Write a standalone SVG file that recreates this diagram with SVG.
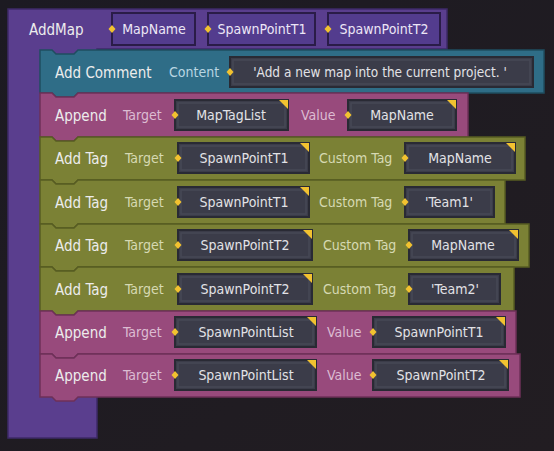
<svg xmlns="http://www.w3.org/2000/svg" width="554" height="451" viewBox="0 0 554 451">
<defs>
<linearGradient id="bg" x1="0" y1="0" x2="1" y2="1">
<stop offset="0" stop-color="#1c1a22"/><stop offset="1" stop-color="#221d22"/>
</linearGradient>
<symbol id="tri" overflow="visible"><path d="M-9,0 H0 V9 Z" fill="#f2c230"/></symbol>
<symbol id="dia" overflow="visible"><path d="M0,-4 L3.5,0 L0,4 L-3.5,0 Z" fill="#f2c230"/></symbol>
</defs>
<style>
text{font-family:"DejaVu Sans Condensed","DejaVu Sans","Roboto",sans-serif;font-stretch:condensed}
.t{font-size:15px;fill:#ececec}
.l{font-size:14px}
.lm{fill:#dcbcd2}.lo{fill:#d6d9b2}.lc{fill:#b9d6e2}
.v{font-size:14px;fill:#e2e2e6;text-anchor:middle}
.cv{font-size:13.5px}
.pv{font-size:14px;fill:#ece6f6;text-anchor:middle}
.box{fill:#3b3c49;stroke:#292a34;stroke-width:2}
.inner{fill:none;stroke:#474856;stroke-width:1.5}
.pbox{fill:#533c8e;stroke:#2a1c48;stroke-width:2}
.pinner{fill:none;stroke:#5f49a0;stroke-width:1.5}
.teal{fill:#2f6d87;stroke:#1f4d60;stroke-width:1.5}
.mag{fill:#984a7c;stroke:#6d3058;stroke-width:1.5}
.oli{fill:#7b8135;stroke:#575c22;stroke-width:1.5}
.pur{fill:#5a3e8e;stroke:#3e2a68;stroke-width:1.5}
</style>
<rect width="554" height="451" fill="url(#bg)"/>

<g id="addmap">
<path class="pur" d="M8,9 H447 V49 H97 V438 H8 Z"/>
<text class="t" x="29" y="35">AddMap</text>
<rect class="pbox" x="112" y="13" width="83" height="32"/>
<use href="#dia" x="112" y="29"/>
<text class="pv" x="154" y="34">MapName</text>
<rect class="pbox" x="208" y="13" width="107" height="32"/>
<use href="#dia" x="208" y="29"/>
<text class="pv" x="262" y="34">SpawnPointT1</text>
<rect class="pbox" x="328" y="13" width="112" height="32"/>
<use href="#dia" x="328" y="29"/>
<text class="pv" x="384" y="34">SpawnPointT2</text>
</g>

<g id="connectors"></g>

<g id="comment">
<path class="teal" d="M40,50 H52 L56,54 H74 L78,50 H544 V93 H78 L74,97 H56 L52,93 H40 Z"/>
<text class="t" x="55" y="78">Add Comment</text>
<text class="l lc" x="169" y="77">Content</text>
<rect class="box" x="230" y="57" width="303" height="30"/>
<rect class="inner" x="233" y="60" width="297" height="24"/>
<use href="#dia" x="230" y="72"/>
<text class="v cv" x="380" y="77">'Add a new map into the current project. '</text>
</g>

<g id="append1">
<path class="mag" d="M40,93 H52 L56,97 H74 L78,93 H468 V137 H78 L74,141 H56 L52,137 H40 Z"/>
<text class="t" x="55" y="121">Append</text>
<text class="l lm" x="123" y="120">Target</text>
<rect class="box" x="175" y="100" width="113" height="30"/>
<rect class="inner" x="178" y="103" width="107" height="24"/>
<use href="#tri" x="288" y="100"/><use href="#dia" x="175" y="115"/>
<text class="v" x="231" y="120">MapTagList</text>
<text class="l lm" x="301" y="120">Value</text>
<rect class="box" x="348" y="100" width="108" height="30"/>
<rect class="inner" x="351" y="103" width="102" height="24"/>
<use href="#tri" x="456" y="100"/><use href="#dia" x="348" y="115"/>
<text class="v" x="402" y="120">MapName</text>
</g>

<g id="addtag1">
<path class="oli" d="M40,137 H52 L56,141 H74 L78,137 H525 V180 H78 L74,184 H56 L52,180 H40 Z"/>
<text class="t" x="55" y="164">Add Tag</text>
<text class="l lo" x="125" y="163">Target</text>
<rect class="box" x="178" y="143" width="131" height="30"/>
<rect class="inner" x="181" y="146" width="125" height="24"/>
<use href="#tri" x="309" y="143"/><use href="#dia" x="178" y="158"/>
<text class="v" x="244" y="163">SpawnPointT1</text>
<text class="l lo" x="319" y="163">Custom Tag</text>
<rect class="box" x="405" y="143" width="110" height="30"/>
<rect class="inner" x="408" y="146" width="104" height="24"/>
<use href="#tri" x="515" y="143"/><use href="#dia" x="405" y="158"/>
<text class="v" x="460" y="163">MapName</text>
</g>

<g id="addtag2">
<path class="oli" d="M40,180 H52 L56,184 H74 L78,180 H505 V224 H78 L74,228 H56 L52,224 H40 Z"/>
<text class="t" x="55" y="208">Add Tag</text>
<text class="l lo" x="125" y="207">Target</text>
<rect class="box" x="178" y="187" width="131" height="30"/>
<rect class="inner" x="181" y="190" width="125" height="24"/>
<use href="#tri" x="309" y="187"/><use href="#dia" x="178" y="202"/>
<text class="v" x="244" y="207">SpawnPointT1</text>
<text class="l lo" x="319" y="207">Custom Tag</text>
<rect class="box" x="405" y="187" width="89" height="30"/>
<rect class="inner" x="408" y="190" width="83" height="24"/>
<use href="#dia" x="405" y="202"/>
<text class="v" x="449" y="207">'Team1'</text>
</g>

<g id="addtag3">
<path class="oli" d="M40,224 H52 L56,228 H74 L78,224 H529 V267 H78 L74,271 H56 L52,267 H40 Z"/>
<text class="t" x="55" y="251">Add Tag</text>
<text class="l lo" x="125" y="250">Target</text>
<rect class="box" x="178" y="230" width="134" height="30"/>
<rect class="inner" x="181" y="233" width="128" height="24"/>
<use href="#tri" x="312" y="230"/><use href="#dia" x="178" y="245"/>
<text class="v" x="245" y="250">SpawnPointT2</text>
<text class="l lo" x="323" y="250">Custom Tag</text>
<rect class="box" x="409" y="230" width="109" height="30"/>
<rect class="inner" x="412" y="233" width="103" height="24"/>
<use href="#tri" x="518" y="230"/><use href="#dia" x="409" y="245"/>
<text class="v" x="463" y="250">MapName</text>
</g>

<g id="addtag4">
<path class="oli" d="M40,267 H52 L56,271 H74 L78,267 H514 V311 H78 L74,315 H56 L52,311 H40 Z"/>
<text class="t" x="55" y="295">Add Tag</text>
<text class="l lo" x="125" y="294">Target</text>
<rect class="box" x="178" y="274" width="134" height="30"/>
<rect class="inner" x="181" y="277" width="128" height="24"/>
<use href="#tri" x="312" y="274"/><use href="#dia" x="178" y="289"/>
<text class="v" x="245" y="294">SpawnPointT2</text>
<text class="l lo" x="323" y="294">Custom Tag</text>
<rect class="box" x="409" y="274" width="91" height="30"/>
<rect class="inner" x="412" y="277" width="85" height="24"/>
<use href="#dia" x="409" y="289"/>
<text class="v" x="455" y="294">'Team2'</text>
</g>

<g id="append2">
<path class="mag" d="M40,311 H52 L56,315 H74 L78,311 H516 V354 H78 L74,358 H56 L52,354 H40 Z"/>
<text class="t" x="55" y="338">Append</text>
<text class="l lm" x="123" y="337">Target</text>
<rect class="box" x="175" y="317" width="141" height="30"/>
<rect class="inner" x="178" y="320" width="135" height="24"/>
<use href="#tri" x="316" y="317"/><use href="#dia" x="175" y="332"/>
<text class="v" x="246" y="337">SpawnPointList</text>
<text class="l lm" x="327" y="337">Value</text>
<rect class="box" x="373" y="317" width="132" height="30"/>
<rect class="inner" x="376" y="320" width="126" height="24"/>
<use href="#tri" x="505" y="317"/><use href="#dia" x="373" y="332"/>
<text class="v" x="439" y="337">SpawnPointT1</text>
</g>

<g id="append3">
<path class="mag" d="M40,354 H52 L56,358 H74 L78,354 H520 V397 H78 L74,401 H56 L52,397 H40 Z"/>
<text class="t" x="55" y="381">Append</text>
<text class="l lm" x="123" y="380">Target</text>
<rect class="box" x="175" y="360" width="141" height="30"/>
<rect class="inner" x="178" y="363" width="135" height="24"/>
<use href="#tri" x="316" y="360"/><use href="#dia" x="175" y="375"/>
<text class="v" x="246" y="380">SpawnPointList</text>
<text class="l lm" x="327" y="380">Value</text>
<rect class="box" x="373" y="360" width="135" height="30"/>
<rect class="inner" x="376" y="363" width="129" height="24"/>
<use href="#tri" x="508" y="360"/><use href="#dia" x="373" y="375"/>
<text class="v" x="441" y="380">SpawnPointT2</text>
</g>
</svg>
